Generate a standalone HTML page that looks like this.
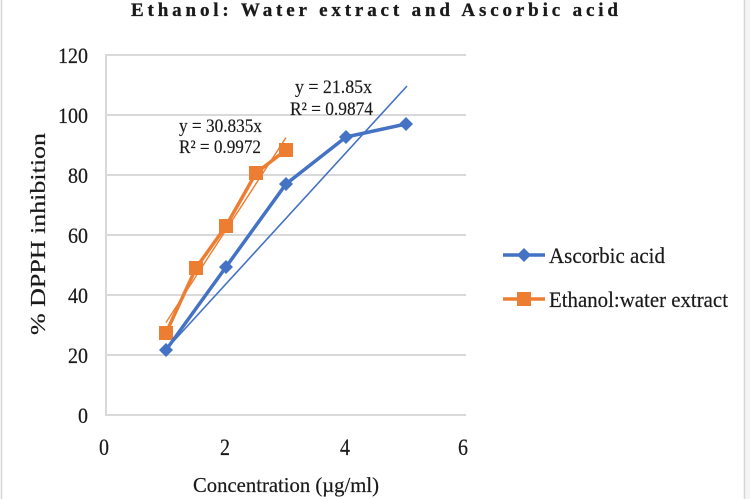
<!DOCTYPE html>
<html>
<head>
<meta charset="utf-8">
<style>
html,body{margin:0;padding:0;background:#fff;}
svg{display:block;}
text{font-family:"Liberation Serif","DejaVu Serif",serif;fill:#1a1a1a;}
</style>
</head>
<body>
<svg width="750" height="499" viewBox="0 0 750 499" xmlns="http://www.w3.org/2000/svg">
  <rect x="0" y="0" width="750" height="499" fill="#fff"/>
  <!-- outer border -->
  <line x1="1.5" y1="0" x2="1.5" y2="499" stroke="#d6d6d6" stroke-width="1.5"/>
  <line x1="744.5" y1="0" x2="744.5" y2="499" stroke="#d6d6d6" stroke-width="1.5"/>
  <rect x="745.5" y="0" width="5" height="499" fill="#f4f4f4"/>

  <!-- title -->
  <text x="131" y="16" font-size="19" font-weight="bold" textLength="487" lengthAdjust="spacing" stroke="#1a1a1a" stroke-width="0.3">Ethanol: Water extract and Ascorbic acid</text>

  <!-- gridlines -->
  <g stroke="#d9d9d9" stroke-width="2">
    <line x1="106" y1="55" x2="466" y2="55"/>
    <line x1="106" y1="115" x2="466" y2="115"/>
    <line x1="106" y1="175" x2="466" y2="175"/>
    <line x1="106" y1="235" x2="466" y2="235"/>
    <line x1="106" y1="295" x2="466" y2="295"/>
    <line x1="106" y1="355" x2="466" y2="355"/>
    <line x1="106" y1="415" x2="466" y2="415"/>
    <line x1="106" y1="54" x2="106" y2="416"/>
  </g>

  <!-- y tick labels -->
  <g font-size="22" stroke="#1a1a1a" stroke-width="0.2">
    <text x="58" y="63" textLength="30" lengthAdjust="spacingAndGlyphs">120</text>
    <text x="58" y="123" textLength="30" lengthAdjust="spacingAndGlyphs">100</text>
    <text x="68" y="183" textLength="20" lengthAdjust="spacingAndGlyphs">80</text>
    <text x="68" y="243" textLength="20" lengthAdjust="spacingAndGlyphs">60</text>
    <text x="68" y="303" textLength="20" lengthAdjust="spacingAndGlyphs">40</text>
    <text x="68" y="363" textLength="20" lengthAdjust="spacingAndGlyphs">20</text>
    <text x="78" y="423" textLength="10" lengthAdjust="spacingAndGlyphs">0</text>
  </g>
  <!-- x tick labels -->
  <g font-size="23" stroke="#1a1a1a" stroke-width="0.2">
    <text x="99" y="455" textLength="10" lengthAdjust="spacingAndGlyphs">0</text>
    <text x="220" y="455" textLength="10" lengthAdjust="spacingAndGlyphs">2</text>
    <text x="340" y="455" textLength="10" lengthAdjust="spacingAndGlyphs">4</text>
    <text x="458" y="455" textLength="10" lengthAdjust="spacingAndGlyphs">6</text>
  </g>

  <!-- axis titles -->
  <text x="193" y="492" font-size="21" textLength="186" lengthAdjust="spacingAndGlyphs" stroke="#1a1a1a" stroke-width="0.2">Concentration (µg/ml)</text>
  <text transform="translate(45,335) rotate(-90)" font-size="21" textLength="202" lengthAdjust="spacingAndGlyphs" stroke="#1a1a1a" stroke-width="0.2">% DPPH inhibition</text>

  <!-- trendlines -->
  <line x1="166" y1="349.5" x2="407" y2="86" stroke="#4472C4" stroke-width="1.6"/>
  <line x1="166" y1="322.5" x2="286" y2="137.5" stroke="#ED7D31" stroke-width="1.4"/>

  <!-- ethanol series -->
  <polyline points="166,333 196,268 226,226 256,173 286,150" fill="none" stroke="#ED7D31" stroke-width="3.5" stroke-linejoin="round"/>
  <g fill="#ED7D31">
    <rect x="159" y="326" width="14" height="14"/>
    <rect x="189" y="261" width="14" height="14"/>
    <rect x="219" y="219" width="14" height="14"/>
    <rect x="249" y="166" width="14" height="14"/>
    <rect x="279" y="143" width="14" height="14"/>
  </g>

  <!-- ascorbic series -->
  <polyline points="166,350 226,267 286,184 346,137 406,124" fill="none" stroke="#4472C4" stroke-width="3.5" stroke-linejoin="round"/>
  <g fill="#4472C4">
    <polygon points="166,343 173,350 166,357 159,350"/>
    <polygon points="226,260 233,267 226,274 219,267"/>
    <polygon points="286,177 293,184 286,191 279,184"/>
    <polygon points="346,130 353,137 346,144 339,137"/>
    <polygon points="406,117 413,124 406,131 399,124"/>
  </g>

  <!-- trend labels -->
  <g font-size="18.5" stroke="#1a1a1a" stroke-width="0.15">
    <text x="295" y="93" textLength="77" lengthAdjust="spacingAndGlyphs">y = 21.85x</text>
    <text x="290" y="115" textLength="83" lengthAdjust="spacingAndGlyphs">R² = 0.9874</text>
    <text x="179" y="132" textLength="83" lengthAdjust="spacingAndGlyphs">y = 30.835x</text>
    <text x="179" y="153" textLength="82" lengthAdjust="spacingAndGlyphs">R² = 0.9972</text>
  </g>

  <!-- legend -->
  <line x1="503" y1="255" x2="545" y2="255" stroke="#4472C4" stroke-width="3.5"/>
  <polygon points="524,248 531,255 524,262 517,255" fill="#4472C4"/>
  <text x="549" y="263" font-size="22" textLength="116" lengthAdjust="spacingAndGlyphs" stroke="#1a1a1a" stroke-width="0.2">Ascorbic acid</text>

  <line x1="503" y1="299" x2="545" y2="299" stroke="#ED7D31" stroke-width="3.5"/>
  <rect x="517" y="292" width="14" height="14" fill="#ED7D31"/>
  <text x="549" y="307" font-size="22" textLength="179" lengthAdjust="spacingAndGlyphs" stroke="#1a1a1a" stroke-width="0.2">Ethanol:water extract</text>
</svg>
</body>
</html>
